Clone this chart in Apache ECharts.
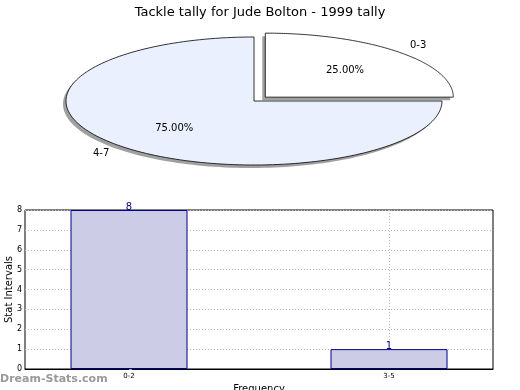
<!DOCTYPE html>
<html><head><meta charset="utf-8">
<script src="https://cdn.jsdelivr.net/npm/echarts@6/dist/echarts.min.js"></script>
<style>html,body{margin:0;padding:0;background:#fff}#c{width:520px;height:390px}</style>
</head><body><div id="c"></div>
<script>
var titleText = 'Tackle tally for Jude Bolton - 1999 tally';
var pieCategories = ['0-3', '4-7'];
var pieValues = [1, 3];
var barCategories = ['0-2', '3-5'];
var barValues = [8, 1];
var yTicks = [0, 1, 2, 3, 4, 5, 6, 7, 8];

var PIE = {cx: 254, cy: 101, rx: 188, ry: 64, explode: [0.085, 0], colors: ['#ffffff', '#eaf0fd']};
var pieTotal = pieValues.reduce(function (a, b) { return a + b; }, 0);

function pieRender(params, api) {
  var i = params.dataIndex;
  var before = 0;
  for (var k = 0; k < i; k++) before += pieValues[k];
  var a0 = -Math.PI / 2 + before / pieTotal * 2 * Math.PI;
  var a1 = a0 + api.value(0) / pieTotal * 2 * Math.PI;
  var am = (a0 + a1) / 2;
  var ex = PIE.explode[i] || 0;
  var cx = PIE.cx + PIE.rx * ex * Math.cos(am);
  var cy = PIE.cy + PIE.ry * ex * Math.sin(am);
  var pts = [[cx, cy]];
  var n = 160;
  for (var s = 0; s <= n; s++) {
    var t = a0 + (a1 - a0) * s / n;
    pts.push([cx + PIE.rx * Math.cos(t), cy + PIE.ry * Math.sin(t)]);
  }
  var shadowPts = pts.map(function (p) { return [p[0] - 3, p[1] + 3]; });
  var pct = (api.value(0) / pieTotal * 100).toFixed(2) + '%';
  return {
    type: 'group',
    children: [
      {type: 'polygon', shape: {points: shadowPts}, z2: 0,
       style: {fill: '#a0a0a0', stroke: null}},
      {type: 'polygon', shape: {points: pts}, z2: 1,
       style: {fill: PIE.colors[i], stroke: '#000', lineWidth: 0.8}},
      {type: 'text', z2: 2, x: cx + PIE.rx * 0.6 * Math.cos(am), y: cy + PIE.ry * 0.6 * Math.sin(am),
       style: {text: pct, fill: '#000', font: '10px "DejaVu Sans"', align: 'center', verticalAlign: 'middle'}},
      {type: 'text', z2: 2, x: cx + PIE.rx * 1.15 * Math.cos(am), y: cy + PIE.ry * 1.15 * Math.sin(am),
       style: {text: pieCategories[i], fill: '#000', font: '10px "DejaVu Sans"', align: 'center', verticalAlign: 'middle'}}
    ]
  };
}

var chart = echarts.init(document.getElementById('c'), null, {renderer: 'canvas'});
chart.setOption({
  animation: false,
  backgroundColor: '#fff',
  title: {text: titleText, left: 'center', top: 1,
          textStyle: {fontFamily: 'DejaVu Sans', fontSize: 13, fontWeight: 'normal', color: '#000'}},
  graphic: [
    {type: 'text', left: 0, top: 374,
     style: {text: 'Dream-Stats.com', fill: '#999', font: 'bold 11px "DejaVu Sans"'}}
  ],
  grid: {left: 25, right: 27, top: 210, bottom: 21, outerBoundsMode: 'none', containLabel: false,
         show: true, borderColor: '#000', borderWidth: 1, backgroundColor: 'transparent'},
  xAxis: {
    type: 'value', min: -0.4, max: 1.4,
    name: 'Frequency', nameLocation: 'middle', nameGap: 15, nameMoveOverlap: false,
    nameTextStyle: {fontFamily: 'DejaVu Sans', fontSize: 10, color: '#000'},
    axisLine: {show: true, lineStyle: {color: '#000'}},
    axisTick: {show: true, customValues: [0, 1], inside: true, length: 3, lineStyle: {color: '#aaa'}},
    axisLabel: {customValues: [0, 1], fontFamily: 'DejaVu Sans', fontSize: 7, color: '#000', margin: 4,
                formatter: function (v) { return barCategories[Math.round(v)] || ''; }},
    splitLine: {show: true, customValues: [0, 1], lineStyle: {color: '#bbb', type: [1, 2], width: 1}}
  },
  yAxis: {
    type: 'value', min: yTicks[0], max: yTicks[yTicks.length - 1], interval: 1,
    name: 'Stat Intervals', nameLocation: 'middle', nameGap: 11, nameMoveOverlap: false,
    nameTextStyle: {fontFamily: 'DejaVu Sans', fontSize: 10, color: '#000'},
    axisLine: {show: true, lineStyle: {color: '#000'}},
    axisTick: {show: true, inside: true, length: 3, lineStyle: {color: '#aaa'}},
    axisLabel: {fontFamily: 'DejaVu Sans', fontSize: 8, color: '#000', margin: 3},
    splitLine: {show: true, lineStyle: {color: '#bbb', type: [1, 2], width: 1}}
  },
  series: [
    {type: 'bar', data: barValues.map(function (v, i) { return [i, v]; }),
     barWidth: 117,
     itemStyle: {color: '#ccccE6', borderColor: '#00008b', borderWidth: 1},
     label: {show: true, position: 'top', distance: -2, color: '#00008b', fontFamily: 'DejaVu Sans', fontSize: 10}},
    {type: 'custom', coordinateSystem: 'none', renderItem: pieRender,
     data: pieValues.map(function (v) { return [v]; }), z: 5}
  ]
});
</script></body></html>
